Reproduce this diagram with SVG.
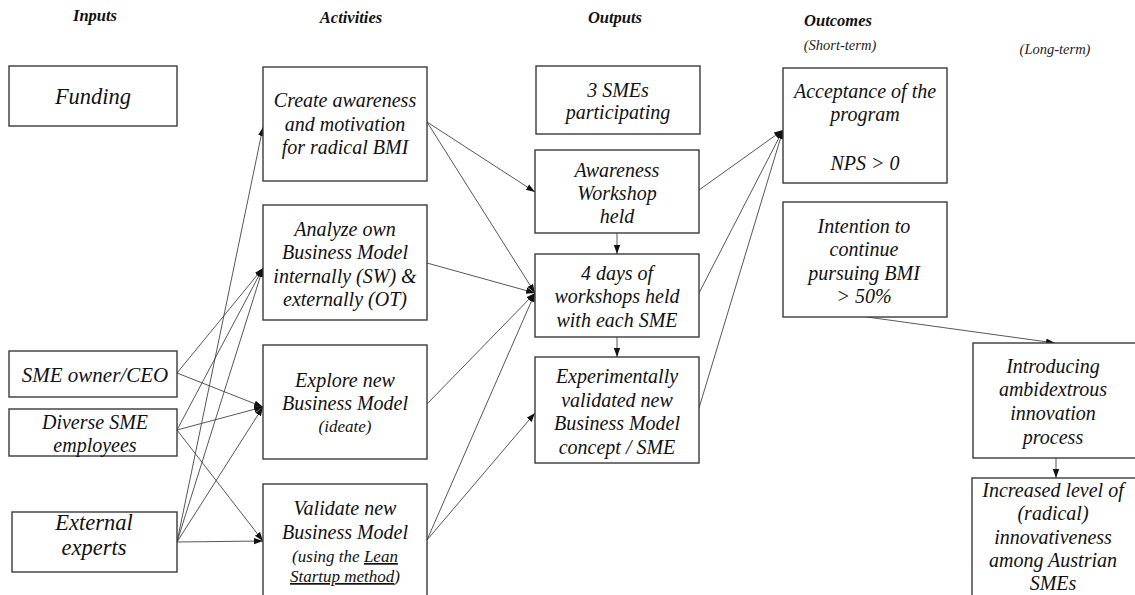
<svg xmlns="http://www.w3.org/2000/svg" width="1135" height="595" viewBox="0 0 1135 595">
<style>
.box{fill:#fff;stroke:#3a3a3a;stroke-width:1.4}
.t{font-family:"Liberation Serif","Times New Roman",serif;font-style:italic;font-size:20px;fill:#111;text-anchor:middle}
.big{font-size:22.5px}
.sm{font-size:17px}
.hd{font-family:"Liberation Serif","Times New Roman",serif;font-style:italic;font-weight:bold;font-size:16.5px;fill:#111;text-anchor:middle}
.sub{font-family:"Liberation Serif","Times New Roman",serif;font-style:italic;font-size:14.5px;fill:#222;text-anchor:middle}
.c{fill:none;stroke:#444;stroke-width:0.9;marker-end:url(#ah)}
</style>
<defs>
<marker id="ah" markerUnits="userSpaceOnUse" markerWidth="10" markerHeight="8" refX="9" refY="4" orient="auto">
<path d="M0,0.8 L9,4 L0,7.2 Z" fill="#111"/>
</marker>
</defs>
<rect width="1135" height="595" fill="#fff"/>

<g id="headers">
<text class="hd" x="95" y="21">Inputs</text>
<text class="hd" x="351" y="23">Activities</text>
<text class="hd" x="615" y="23">Outputs</text>
<text class="hd" x="838" y="26">Outcomes</text>
<text class="sub" x="840" y="50">(Short-term)</text>
<text class="sub" x="1055" y="54">(Long-term)</text>
</g>

<g id="connectors">
<line class="c" x1="177" y1="373" x2="263" y2="268"/>
<line class="c" x1="177" y1="373" x2="263" y2="407"/>
<line class="c" x1="177" y1="430" x2="263" y2="268"/>
<line class="c" x1="177" y1="430" x2="263" y2="407"/>
<line class="c" x1="177" y1="430" x2="263" y2="541"/>
<line class="c" x1="177" y1="542" x2="263" y2="127"/>
<line class="c" x1="177" y1="542" x2="263" y2="268"/>
<line class="c" x1="177" y1="542" x2="263" y2="407"/>
<line class="c" x1="177" y1="542" x2="263" y2="541"/>
<line class="c" x1="427" y1="122" x2="535" y2="192"/>
<line class="c" x1="427" y1="122" x2="535" y2="293"/>
<line class="c" x1="427" y1="263" x2="535" y2="293"/>
<line class="c" x1="427" y1="404" x2="535" y2="293"/>
<line class="c" x1="427" y1="540" x2="535" y2="293"/>
<line class="c" x1="427" y1="540" x2="535" y2="413"/>
<line class="c" x1="699" y1="190" x2="783" y2="130"/>
<line class="c" x1="699" y1="293" x2="783" y2="130"/>
<line class="c" x1="699" y1="408" x2="783" y2="130"/>
<line class="c" x1="617" y1="233" x2="617" y2="254"/>
<line class="c" x1="617" y1="337" x2="617" y2="357"/>
<line class="c" x1="867" y1="317" x2="1055" y2="343"/>
<line class="c" x1="1056" y1="458" x2="1056" y2="478"/>
</g>

<g id="funding">
<rect class="box" x="9" y="66" width="168" height="60"/>
<text class="t big" x="93" y="104">Funding</text>
</g>
<g id="sme-owner">
<rect class="box" x="9" y="351" width="168" height="46"/>
<text class="t" style="font-size:21px" x="95" y="382">SME owner/CEO</text>
</g>
<g id="diverse-sme">
<rect class="box" x="9" y="409" width="168" height="47"/>
<text class="t" x="95" y="429">Diverse SME</text>
<text class="t" x="95" y="452">employees</text>
</g>
<g id="external-experts">
<rect class="box" x="12" y="512" width="165" height="60"/>
<text class="t big" x="94" y="530">External</text>
<text class="t big" x="94" y="555">experts</text>
</g>

<g id="create-awareness">
<rect class="box" x="263" y="67" width="164" height="114"/>
<text class="t" x="345" y="107">Create awareness</text>
<text class="t" x="345" y="131">and motivation</text>
<text class="t" x="345" y="154">for radical BMI</text>
</g>
<g id="analyze">
<rect class="box" x="263" y="205" width="164" height="115"/>
<text class="t" x="345" y="236">Analyze own</text>
<text class="t" x="345" y="259">Business Model</text>
<text class="t" x="345" y="283">internally (SW) &amp;</text>
<text class="t" x="345" y="306">externally (OT)</text>
</g>
<g id="explore">
<rect class="box" x="263" y="345" width="164" height="114"/>
<text class="t" x="345" y="387">Explore new</text>
<text class="t" x="345" y="410">Business Model</text>
<text class="t sm" x="345" y="432">(ideate)</text>
</g>
<g id="validate">
<rect class="box" x="263" y="484" width="164" height="120"/>
<text class="t" x="345" y="515">Validate new</text>
<text class="t" x="345" y="539">Business Model</text>
<text class="t sm" x="345" y="562">(using the <tspan text-decoration="underline">Lean</tspan></text>
<text class="t sm" x="345" y="582"><tspan text-decoration="underline">Startup method</tspan>)</text>
</g>

<g id="smes-participating">
<rect class="box" x="536" y="66" width="164" height="68"/>
<text class="t" x="618" y="97">3 SMEs</text>
<text class="t" x="618" y="119">participating</text>
</g>
<g id="awareness-workshop">
<rect class="box" x="535" y="150" width="164" height="83"/>
<text class="t" x="617" y="177">Awareness</text>
<text class="t" x="617" y="200">Workshop</text>
<text class="t" x="617" y="223">held</text>
</g>
<g id="four-days">
<rect class="box" x="535" y="254" width="164" height="83"/>
<text class="t" x="617" y="280">4 days of</text>
<text class="t" x="617" y="303">workshops held</text>
<text class="t" x="617" y="327">with each SME</text>
</g>
<g id="experimentally-validated">
<rect class="box" x="535" y="357" width="164" height="106"/>
<text class="t" x="617" y="383">Experimentally</text>
<text class="t" x="617" y="407">validated new</text>
<text class="t" x="617" y="430">Business Model</text>
<text class="t" x="617" y="454">concept / SME</text>
</g>

<g id="acceptance">
<rect class="box" x="783" y="68" width="164" height="115"/>
<text class="t" x="865" y="98">Acceptance of the</text>
<text class="t" x="865" y="121">program</text>
<text class="t" x="865" y="170">NPS &gt; 0</text>
</g>
<g id="intention">
<rect class="box" x="783" y="202" width="164" height="115"/>
<text class="t" x="864" y="233">Intention to</text>
<text class="t" x="864" y="256">continue</text>
<text class="t" x="864" y="280">pursuing BMI</text>
<text class="t" x="864" y="303">&gt; 50%</text>
</g>
<g id="introducing">
<rect class="box" x="973" y="343" width="170" height="115"/>
<text class="t" x="1053" y="373">Introducing</text>
<text class="t" x="1053" y="396">ambidextrous</text>
<text class="t" x="1053" y="420">innovation</text>
<text class="t" x="1053" y="444">process</text>
</g>
<g id="increased">
<rect class="box" x="972" y="478" width="170" height="130"/>
<text class="t" x="1053" y="497">Increased level of</text>
<text class="t" x="1053" y="520">(radical)</text>
<text class="t" x="1053" y="544">innovativeness</text>
<text class="t" x="1053" y="567">among Austrian</text>
<text class="t" x="1053" y="590">SMEs</text>
</g>
</svg>
